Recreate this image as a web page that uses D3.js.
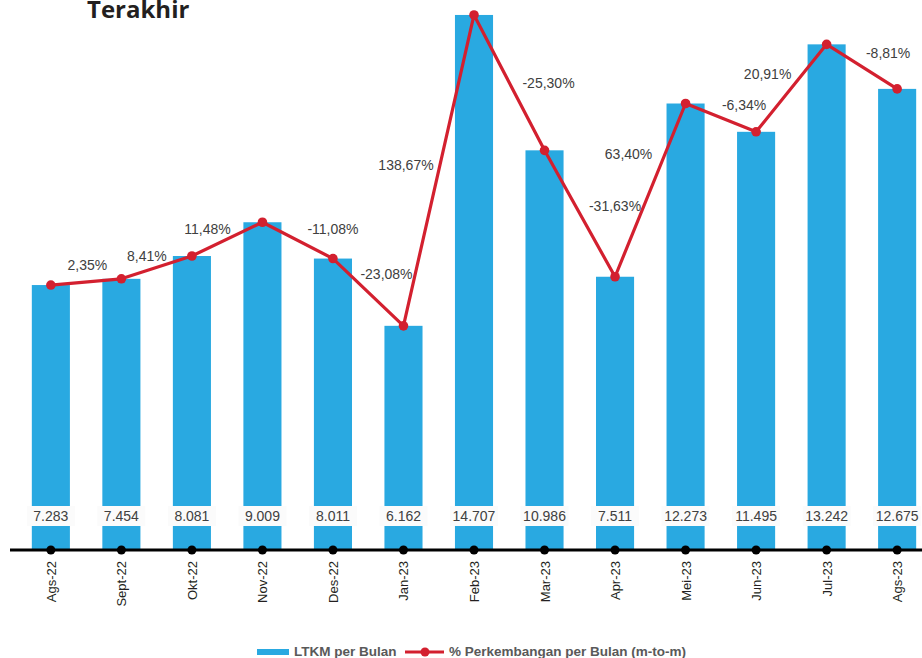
<!DOCTYPE html>
<html>
<head>
<meta charset="utf-8">
<script src="https://cdn.jsdelivr.net/npm/d3@7"></script>
<style>
body { margin: 0; background: #fff; }
</style>
</head>
<body>
<div id="chart"></div>
<script>
var months = ["Ags-22","Sept-22","Okt-22","Nov-22","Des-22","Jan-23","Feb-23","Mar-23","Apr-23","Mei-23","Jun-23","Jul-23","Ags-23"];
// bar heights as drawn (Jul-23 bar is drawn taller than its printed label)
var ltkm = [7283, 7454, 8081, 9009, 8011, 6162, 14707, 10986, 7511, 12273, 11495, 13899, 12675];
var ltkmLabels = ["7.283", "7.454", "8.081", "9.009", "8.011", "6.162", "14.707", "10.986", "7.511", "12.273", "11.495", "13.242", "12.675"];
var growth = ["", "2,35%", "8,41%", "11,48%", "-11,08%", "-23,08%", "138,67%", "-25,30%", "-31,63%", "63,40%", "-6,34%", "20,91%", "-8,81%"];

// where each % label sits relative to its point
var labelDx = [0, -34, -45, -55, 0, -17, -68, 4, 0, -57, -12, -59, -9];
var labelDy = [0, -14, 0, 7, -29, -52, 150, -67, -71, 51, -27, 30, -36];

function main() {
    var W = 922, H = 658;
    var base = 550;
    var font = "'Liberation Sans', Arial, sans-serif";

    var svg = d3.select("#chart")
            .append("svg")
            .attr("width", W)
            .attr("height", H);

    var x = d3.scaleBand().domain(months).range([15.6, 932.4]).paddingInner(0.46).paddingOuter(0.23);
    var y = d3.scaleLinear().domain([0, 15000]).range([base, base - 0.03638 * 15000]);
    var cx = function(d) { return x(d) + x.bandwidth() / 2; };

    svg.append("text")
        .attr("x", 87).attr("y", 18)
        .attr("font-family", "'Open Sans', sans-serif")
        .attr("font-weight", "bold")
        .attr("font-size", 24)
        .attr("fill", "#231f20")
        .text("Terakhir");

    // bars
    svg.append("g").selectAll("rect")
        .data(ltkm)
        .enter()
        .append("rect")
        .attr("x", function(d, i) { return x(months[i]); })
        .attr("y", function(d) { return y(d); })
        .attr("width", x.bandwidth())
        .attr("height", function(d) { return base - y(d); })
        .attr("fill", "#29a9e1");

    // value labels on white boxes
    var vl = svg.append("g");
    vl.selectAll("rect")
        .data(ltkmLabels)
        .enter()
        .append("rect")
        .attr("x", function(d, i) { return cx(months[i]) - 24; })
        .attr("y", 506)
        .attr("width", 48)
        .attr("height", 20)
        .attr("fill", "#fbfbfb");
    vl.selectAll("text")
        .data(ltkmLabels)
        .enter()
        .append("text")
        .attr("x", function(d, i) { return cx(months[i]); })
        .attr("y", 521)
        .attr("text-anchor", "middle")
        .attr("font-family", font)
        .attr("font-size", 14)
        .attr("fill", "#404040")
        .text(function(d) { return d; });

    // axis
    svg.append("line")
        .attr("x1", 10).attr("x2", W)
        .attr("y1", base).attr("y2", base)
        .attr("stroke", "#000").attr("stroke-width", 3);
    svg.append("g").selectAll("circle")
        .data(months)
        .enter()
        .append("circle")
        .attr("cx", cx)
        .attr("cy", base)
        .attr("r", 4.5)
        .attr("fill", "#000");
    svg.append("g").selectAll("text")
        .data(months)
        .enter()
        .append("text")
        .attr("transform", function(d) { return "translate(" + (cx(d) + 5) + ",561) rotate(-90)"; })
        .attr("text-anchor", "end")
        .attr("font-family", font)
        .attr("font-size", 13)
        .attr("fill", "#231f20")
        .text(function(d) { return d; });

    // growth line
    var line = d3.line()
        .x(function(d, i) { return cx(months[i]); })
        .y(function(d) { return y(d); });
    svg.append("path")
        .datum(ltkm)
        .attr("d", line)
        .attr("fill", "none")
        .attr("stroke", "#d3202f")
        .attr("stroke-width", 3.2)
        .attr("stroke-linejoin", "round");
    svg.append("g").selectAll("circle")
        .data(ltkm)
        .enter()
        .append("circle")
        .attr("cx", function(d, i) { return cx(months[i]); })
        .attr("cy", function(d) { return y(d); })
        .attr("r", 4.8)
        .attr("fill", "#d3202f");

    svg.append("g").selectAll("text")
        .data(growth)
        .enter()
        .append("text")
        .attr("x", function(d, i) { return cx(months[i]) + labelDx[i]; })
        .attr("y", function(d, i) { return y(ltkm[i]) + labelDy[i]; })
        .attr("dy", "0.35em")
        .attr("text-anchor", "middle")
        .attr("font-family", font)
        .attr("font-size", 14)
        .attr("fill", "#404040")
        .text(function(d) { return d; });

    // legend
    var lg = svg.append("g");
    lg.append("rect").attr("x", 257).attr("y", 649).attr("width", 32).attr("height", 6).attr("fill", "#29a9e1");
    lg.append("text").attr("x", 294).attr("y", 656)
        .attr("font-family", font).attr("font-weight", "bold").attr("font-size", 13.5)
        .attr("fill", "#595959").text("LTKM per Bulan");
    lg.append("line").attr("x1", 405).attr("x2", 444).attr("y1", 652).attr("y2", 652)
        .attr("stroke", "#d3202f").attr("stroke-width", 3);
    lg.append("circle").attr("cx", 425).attr("cy", 652).attr("r", 4.5).attr("fill", "#d3202f");
    lg.append("text").attr("x", 449).attr("y", 656)
        .attr("font-family", font).attr("font-weight", "bold").attr("font-size", 13.5)
        .attr("fill", "#595959").text("% Perkembangan per Bulan (m-to-m)");
}

main();
</script>
</body>
</html>
